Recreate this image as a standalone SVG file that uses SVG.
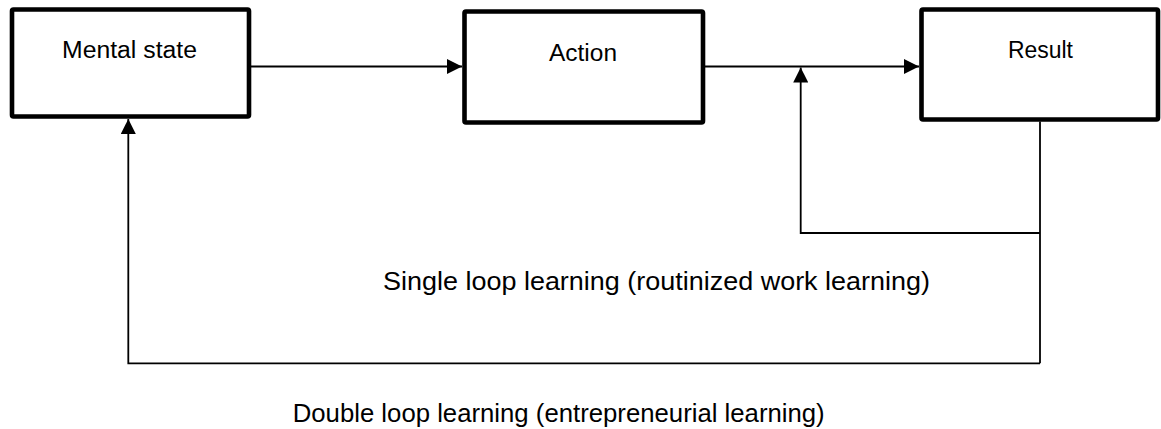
<svg xmlns="http://www.w3.org/2000/svg" width="1161" height="429" viewBox="0 0 1161 429">
<style>
.box{fill:#fff;stroke:#000;stroke-width:4.6;stroke-linejoin:round}
.lbl{font-family:"Liberation Sans",Arial,sans-serif;font-size:23px;fill:#000}
.cap{font-family:"Liberation Sans",Arial,sans-serif;font-size:26.5px;fill:#000}
.con{fill:none;stroke:#000;stroke-width:1.8}
</style>
<defs>
<marker id="arr" viewBox="0 0 15 15" refX="15" refY="7.5" markerWidth="15" markerHeight="15" markerUnits="userSpaceOnUse" orient="auto">
<path d="M0,0 L15,7.5 L0,15 Z" fill="#000"/>
</marker>
</defs>
<rect width="1161" height="429" fill="#fff"/>
<g id="connectors">
<path class="con" d="M249,66.5 H462" marker-end="url(#arr)"/>
<path class="con" d="M703,66.5 H919" marker-end="url(#arr)"/>
<path class="con" d="M1040,121.5 V363.3"/>
<path class="con" d="M1040,233 H800.7 V67.5" marker-end="url(#arr)"/>
<path class="con" d="M1040,363.3 H128.3 V119" marker-end="url(#arr)"/>
</g>
<g id="mental-state">
<rect class="box" x="12" y="9.5" width="237" height="107" rx="1.5"/>
<text class="lbl" x="62" y="58" textLength="135" lengthAdjust="spacingAndGlyphs">Mental state</text>
</g>
<g id="action">
<rect class="box" x="464.5" y="11.5" width="238.5" height="111" rx="1.5"/>
<text class="lbl" x="549" y="61" textLength="68" lengthAdjust="spacingAndGlyphs">Action</text>
</g>
<g id="result">
<rect class="box" x="921.5" y="9.5" width="236.5" height="110" rx="1.5"/>
<text class="lbl" x="1008" y="58" textLength="65" lengthAdjust="spacingAndGlyphs">Result</text>
</g>
<g id="single-loop-label">
<text class="cap" x="383" y="289.5" textLength="547" lengthAdjust="spacingAndGlyphs">Single loop learning (routinized work learning)</text>
</g>
<g id="double-loop-label">
<text class="cap" x="292.7" y="422" textLength="532" lengthAdjust="spacingAndGlyphs">Double loop learning (entrepreneurial learning)</text>
</g>
</svg>
